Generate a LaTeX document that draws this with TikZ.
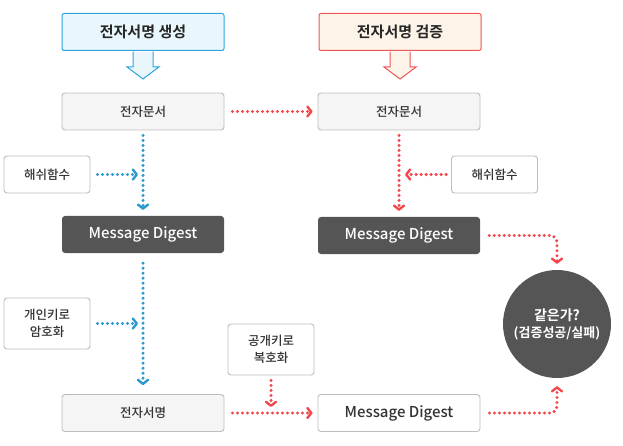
\documentclass[tikz,border=0pt]{standalone}
\usepackage{fontspec}
\setmainfont{Noto Sans CJK KR}[UprightFont={* Medium}, BoldFont={* Bold}]
\usetikzlibrary{arrows.meta,calc}
\definecolor{blueD}{HTML}{2B98CE}
\definecolor{redD}{HTML}{F2474B}
\definecolor{cyanF}{HTML}{E9F7FC}
\definecolor{cyanB}{HTML}{2FA3DA}
\definecolor{beigeF}{HTML}{FCF3E9}
\definecolor{redB}{HTML}{F05555}
\definecolor{grayF}{HTML}{F5F5F5}
\definecolor{grayB}{HTML}{BDBDBD}
\definecolor{darkF}{HTML}{555555}
\definecolor{txt}{HTML}{333333}
\begin{document}
\begin{tikzpicture}[x=1pt,y=-1pt,
  titlebox/.style={draw, line width=1pt, rounded corners=2pt, minimum width=162pt, minimum height=37pt, inner sep=0pt, font=\fontsize{15}{17}\selectfont\bfseries, text=black!85},
  graybox/.style={draw=grayB, fill=grayF, line width=0.9pt, rounded corners=3pt, minimum width=162pt, minimum height=37pt, inner sep=0pt, font=\fontsize{12.5}{15}\selectfont, text=txt},
  whitebox/.style={draw=grayB, fill=white, line width=0.9pt, rounded corners=3pt, minimum width=86pt, minimum height=37pt, inner sep=0pt, align=center, font=\fontsize{12.5}{17}\selectfont, text=txt},
  darkbox/.style={fill=darkF, rounded corners=3pt, minimum width=162pt, minimum height=37pt, inner sep=0pt, font=\fontsize{15}{17}\selectfont, text=white},
  tip/.style={-{Straight Barb[length=4pt,width=10pt,line width=2.4pt,round]}},
  dotline/.style={line width=3.4pt, line cap=round, dash pattern=on 0pt off 5pt, tip},
  blued/.style={dotline, draw=blueD},
  redd/.style={dotline, draw=redD},
]
\useasboundingbox (0,0) rectangle (623,446);
% title boxes
\node[titlebox, draw=cyanB, fill=cyanF] (t1) at (143,32) {전자서명 생성};
\node[titlebox, draw=redB, fill=beigeF] (t2) at (400,32) {전자서명 검증};
\foreach \n/\c/\f in {t1/cyanB/cyanF, t2/redB/beigeF}{
  \filldraw[draw=\c, fill=\f, line width=1pt, line join=miter]
    ($(\n.south)+(-10,0.6)$) -- ($(\n.south)+(-10,16)$) -- ($(\n.south)+(-16,16)$) --
    ($(\n.south)+(0,28)$) -- ($(\n.south)+(16,16)$) -- ($(\n.south)+(10,16)$) -- ($(\n.south)+(10,0.6)$);
}
% left column
\node[graybox] (doc1) at (143,111.5) {전자문서};
\node[whitebox] (hash1) at (47,174.5) {해쉬함수};
\node[darkbox] (md1) at (143,234.5) {Message Digest};
\node[whitebox, minimum height=51pt] (priv) at (47,323.5) {개인키로\\암호화};
\node[graybox] (sig) at (143,413) {전자서명};
% right column
\node[graybox] (doc2) at (399,111.5) {전자문서};
\node[whitebox] (hash2) at (494.5,174.5) {해쉬함수};
\node[darkbox] (md2) at (399,235.5) {Message Digest};
\node[whitebox, minimum height=51pt] (pub) at (271,349.5) {공개키로\\복호화};
\node[whitebox, minimum width=162pt, font=\fontsize{15}{17}\selectfont] (md3) at (399,413) {Message Digest};
\node[circle, fill=darkF, minimum size=108pt, inner sep=0pt, align=center, text=white,
  font=\fontsize{14}{18}\selectfont] (same) at (557,324)
  {\textbf{같은가?}\\[-1pt]{\fontsize{13}{16}\selectfont\bfseries (검증성공/실패)}};
% blue connectors
\draw[blued, shorten <=5pt, shorten >=6pt] (doc1.south) -- (md1.north);
\draw[blued, shorten <=7pt, shorten >=5pt] (hash1.east) -- (hash1.east -| doc1.south);
\draw[blued, shorten <=10pt, shorten >=9pt] (md1.south) -- (sig.north);
\draw[blued, shorten <=7pt, shorten >=5pt] (priv.east) -- (priv.east -| md1.south);
% red connectors
\draw[redd, shorten <=8pt, shorten >=5pt] (doc1.east) -- (doc2.west);
\draw[redd, shorten <=5pt, shorten >=6pt] (doc2.south) -- (md2.north);
\draw[redd, shorten <=5pt, shorten >=6pt] (hash2.west) -- (hash2.west -| doc2.south);
\draw[redd, shorten <=5pt, shorten >=6pt] (pub.south) -- (pub.south |- sig.east);
\draw[redd, shorten <=8pt, shorten >=5pt] (sig.east) -- (md3.west);
\draw[redd, rounded corners=7pt, shorten <=9pt, shorten >=6pt] (md2.east) -| (same.north);
\draw[redd, rounded corners=7pt, shorten <=9pt, shorten >=8pt] (md3.east) -| (same.south);
\end{tikzpicture}
\end{document}
